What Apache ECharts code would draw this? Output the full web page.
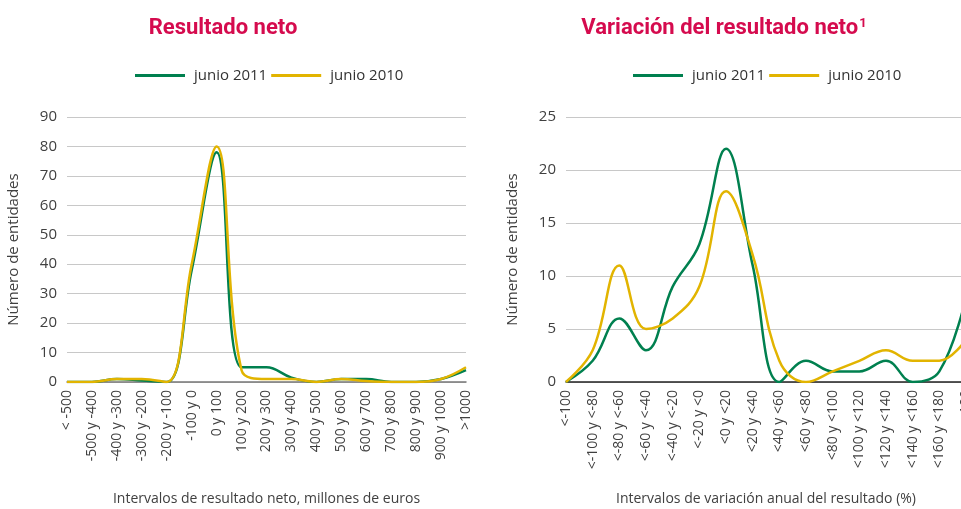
<!DOCTYPE html>
<html>
<head>
<meta charset="utf-8">
<script src="https://cdn.jsdelivr.net/npm/echarts@6/dist/echarts.min.js"></script>
<style>
  html, body { margin: 0; padding: 0; background: #fff; }
  #chart { width: 961px; height: 509px; }
</style>
</head>
<body>
<div id="chart"></div>
<script>
// left chart: resultado neto
const netoCats = ['< -500', '-500 y -400', '-400 y -300', '-300 y -200', '-200 y -100', '-100 y 0',
  '0 y 100', '100 y 200', '200 y 300', '300 y 400', '400 y 500', '500 y 600', '600 y 700',
  '700 y 800', '800 y 900', '900 y 1000', '>1000'];
const neto2011 = [0, 0, 1, 0.5, 0, 38, 78, 5, 5, 1.5, 0, 1, 1, 0, 0, 1, 4];
const neto2010 = [0, 0, 1, 1, 0, 40, 80, 4, 1, 1, 0, 1, 0.3, 0, 0, 1, 5];

// right chart: variación del resultado neto
const varCats = ['<-100', '<-100 y <-80', '<-80 y <-60', '<-60 y <-40', '<-40 y <-20', '<-20 y <0',
  '<0 y <20', '<20 y <40', '<40 y <60', '<60 y <80', '<80 y <100', '<100 y <120',
  '<120 y <140', '<140 y <160', '<160 y <180', '>180'];
const var2011 = [0, 2, 6, 3, 9, 13, 22, 11, 0, 2, 1, 1, 2, 0, 1, 8];
const var2010 = [0, 3, 11, 5, 6, 9, 18, 12, 2, 0, 1, 2, 3, 2, 2, 4];

const GREEN = '#00804F';
const YELLOW = '#E2B400';
const RED = '#D50B4E';
const txt = '#404040';
const font = 'Open Sans';

function xAxisFor(cats, idx, name, lineColor) {
  return {
    type: 'category', gridIndex: idx, data: cats, boundaryGap: false,
    axisLine: { lineStyle: { color: lineColor, width: 1.5 } },
    axisTick: { show: false },
    axisLabel: { rotate: 90, interval: 0, margin: 8, fontSize: 14, color: txt, fontFamily: font },
    name: name, nameLocation: 'middle', nameGap: 110,
    nameTextStyle: { fontSize: 14, color: txt, fontFamily: font }
  };
}

function yAxisFor(idx, max, interval) {
  return {
    type: 'value', gridIndex: idx, min: 0, max: max, interval: interval,
    axisLine: { show: false }, axisTick: { show: false },
    axisLabel: { fontSize: 15, color: txt, fontFamily: font, margin: 10 },
    splitLine: { lineStyle: { color: '#c8c8c8', width: 1 } },
    name: 'Número de entidades', nameLocation: 'middle', nameGap: 46,
    nameTextStyle: { fontSize: 15, color: txt, fontFamily: font }
  };
}

function lineSeries(name, data, color, idx) {
  return {
    name: name, type: 'line', data: data, xAxisIndex: idx, yAxisIndex: idx,
    smooth: 0.4, showSymbol: false, symbol: 'none',
    lineStyle: { color: color, width: 2.5 }, itemStyle: { color: color }
  };
}

const legendCommon = {
  top: 63, icon: 'rect', itemWidth: 50, itemHeight: 3, itemGap: 4,
  data: ['junio 2011', 'junio 2010'],
  textStyle: { fontSize: 15, color: '#333', fontFamily: font, padding: [0, 0, 0, 4] }
};

const titleStyle = { fontSize: 22, fontWeight: 'bold', color: RED, fontFamily: 'Roboto' };

const chart = echarts.init(document.getElementById('chart'));
chart.setOption({
  animation: false,
  title: [
    { text: 'Resultado neto', left: 218, top: 12, textAlign: 'center', textStyle: titleStyle },
    { text: '{a|Variación del resultado neto}{s|1}', left: 719, top: 12, textAlign: 'center',
      textStyle: { rich: {
        a: titleStyle,
        s: { fontSize: 13, fontWeight: 'bold', color: RED, fontFamily: 'Roboto', padding: [0, 0, 10, 1] }
      } } }
  ],
  legend: [
    Object.assign({ left: 130 }, legendCommon),
    Object.assign({ left: 628 }, legendCommon)
  ],
  grid: [
    { left: 67, top: 117, width: 399, height: 265, outerBoundsMode: 'none', containLabel: false },
    { left: 566, top: 117, width: 400, height: 265, outerBoundsMode: 'none', containLabel: false }
  ],
  xAxis: [
    xAxisFor(netoCats, 0, 'Intervalos de resultado neto, millones de euros', '#777'),
    xAxisFor(varCats, 1, 'Intervalos de variación anual del resultado (%)', '#222')
  ],
  yAxis: [yAxisFor(0, 90, 10), yAxisFor(1, 25, 5)],
  series: [
    lineSeries('junio 2011', neto2011, GREEN, 0),
    lineSeries('junio 2010', neto2010, YELLOW, 0),
    lineSeries('junio 2011', var2011, GREEN, 1),
    lineSeries('junio 2010', var2010, YELLOW, 1)
  ]
});
</script>
</body>
</html>
